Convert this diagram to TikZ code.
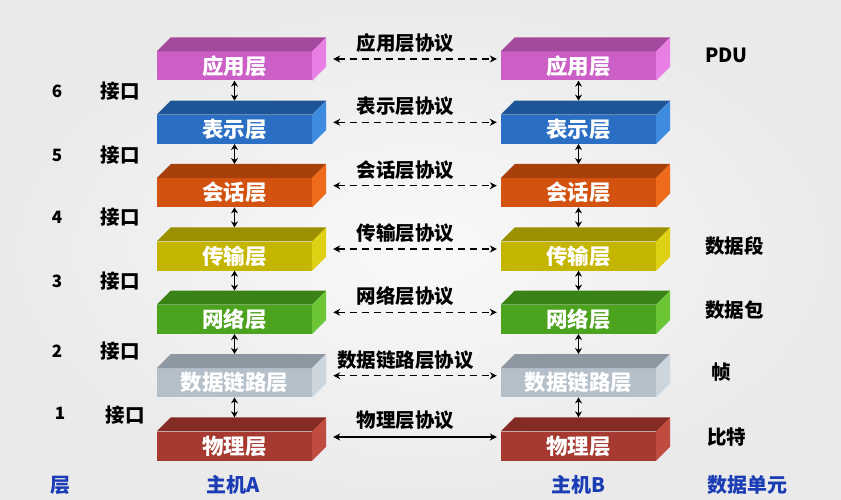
\documentclass[tikz,border=0pt]{standalone}
\usepackage{fontspec}
\setmainfont{Noto Sans CJK SC}
\usetikzlibrary{arrows.meta,calc}
\definecolor{bgin}{HTML}{F9F9F9}
\definecolor{bgout}{HTML}{EAEAEA}
\definecolor{appfront}{HTML}{CC5FC6}\definecolor{apptop}{HTML}{A44A9C}\definecolor{appside}{HTML}{E97FE4}
\definecolor{prefront}{HTML}{2B6FC4}\definecolor{pretop}{HTML}{1E5598}\definecolor{preside}{HTML}{3F8BE0}
\definecolor{sesfront}{HTML}{D4520F}\definecolor{sestop}{HTML}{A8400C}\definecolor{sesside}{HTML}{F06A1C}
\definecolor{trafront}{HTML}{C4B500}\definecolor{tratop}{HTML}{9C9000}\definecolor{traside}{HTML}{DED012}
\definecolor{netfront}{HTML}{4CA31E}\definecolor{nettop}{HTML}{3A8216}\definecolor{netside}{HTML}{6CC534}
\definecolor{dlfront}{HTML}{B4BFCA}\definecolor{dltop}{HTML}{8E98A3}\definecolor{dlside}{HTML}{CDD5DD}
\definecolor{phyfront}{HTML}{A63A30}\definecolor{phytop}{HTML}{842B24}\definecolor{physide}{HTML}{C04B3F}
\definecolor{deepblue}{HTML}{1A3CB4}
\newcommand\layerbox[5]{%
  \node[face,fill=#4front] (#1) at (#2,#3) {#5};
  \fill[#4top] (#1.north west) -- ++(14,-14) -- ($(#1.north east)+(14,-14)$) -- (#1.north east) -- cycle;
  \fill[#4side] (#1.north east) -- ++(14,-14) -- ($(#1.south east)+(14,-14)$) -- (#1.south east) -- cycle;
}
\begin{document}
\begin{tikzpicture}[x=1pt,y=-1pt,
  face/.style={minimum width=155pt,minimum height=29pt,inner sep=0pt,text=white,
    font=\fontsize{21.5}{21.5}\selectfont\bfseries},
  lbl/.style={inner sep=0pt,font=\fontsize{19.5}{19.5}\selectfont\bfseries},
  numlbl/.style={inner sep=0pt,font=\fontsize{17}{17}\selectfont\bfseries},
  bluelbl/.style={inner sep=0pt,text=deepblue,font=\fontsize{20}{20}\selectfont\bfseries},
  varrow/.style={line width=1.6pt,{Stealth[length=6pt,width=7pt]}-{Stealth[length=6pt,width=7pt]}},
  harrow/.style={line width=1.5pt,dash pattern=on 7pt off 5pt,{Stealth[length=7pt,width=7pt]}-{Stealth[length=7pt,width=7pt]}},
  sarrow/.style={line width=1.5pt,{Stealth[length=7pt,width=7pt]}-{Stealth[length=7pt,width=7pt]}}]
\useasboundingbox (0,0) rectangle (841,500);
\shade[inner color=bgin,outer color=bgout] (0,0) rectangle (841,500);
% boxes
\layerbox{a0}{234.5}{66}{app}{应用层}
\layerbox{a1}{234.5}{129.3}{pre}{表示层}
\layerbox{a2}{234.5}{192.7}{ses}{会话层}
\layerbox{a3}{234.5}{256}{tra}{传输层}
\layerbox{a4}{234.5}{319.3}{net}{网络层}
\layerbox{a5}{234.5}{382.7}{dl}{数据链路层}
\layerbox{a6}{234.5}{446}{phy}{物理层}
\layerbox{b0}{578.5}{66}{app}{应用层}
\layerbox{b1}{578.5}{129.3}{pre}{表示层}
\layerbox{b2}{578.5}{192.7}{ses}{会话层}
\layerbox{b3}{578.5}{256}{tra}{传输层}
\layerbox{b4}{578.5}{319.3}{net}{网络层}
\layerbox{b5}{578.5}{382.7}{dl}{数据链路层}
\layerbox{b6}{578.5}{446}{phy}{物理层}
% vertical arrows
\foreach \i/\j in {0/1,1/2,2/3,3/4,4/5,5/6}{
  \draw[varrow] (a\i.south) -- ($(a\j.north)+(0,-14)$);
  \draw[varrow] (b\i.south) -- ($(b\j.north)+(0,-14)$);
}
% protocol arrows and labels
\foreach \i/\t in {0/应用层协议,1/表示层协议,2/会话层协议,3/传输层协议,4/网络层协议,5/数据链路层协议}{
  \draw[harrow] ($(a\i.east)+(21,-7)$) -- ($(b\i.west)+(-4,-7)$);
  \node[lbl] (p\i) at ($(a\i.east)!0.5!(b\i.west)+(-1,-23)$) {\t};
}
\draw[sarrow] ($(a6.east)+(21,-9)$) -- ($(b6.west)+(-4,-9)$);
\node[lbl] (p6) at ($(a6.east)!0.5!(b6.west)+(-1,-26)$) {物理层协议};
% left labels
\node[numlbl] (n6) at (57,91) {6};
\node[numlbl] (n5) at (57,155) {5};
\node[numlbl] (n4) at (57,217) {4};
\node[numlbl] (n3) at (57,281) {3};
\node[numlbl] (n2) at (57,351) {2};
\node[numlbl] (n1) at (60,413) {1};
\node[lbl] (i6) at (120,91) {接口};
\node[lbl] (i5) at (120,155) {接口};
\node[lbl] (i4) at (120,217) {接口};
\node[lbl] (i3) at (120,281) {接口};
\node[lbl] (i2) at (120,351) {接口};
\node[lbl] (i1) at (125,415) {接口};
% right labels
\node[lbl,anchor=west] (u0) at (705,55) {PDU};
\node[lbl,anchor=west] (u3) at (705,246) {数据段};
\node[lbl,anchor=west] (u4) at (705,310) {数据包};
\node[lbl,anchor=west] (u5) at (711,372) {帧};
\node[lbl,anchor=west] (u6) at (707,437) {比特};
% bottom labels
\node[bluelbl] (hl) at (60,485) {层};
\node[bluelbl] (ha) at (233,485) {主机A};
\node[bluelbl] (hb) at (578,485) {主机B};
\node[bluelbl,anchor=west] (hu) at (707,485) {数据单元};
\end{tikzpicture}
\end{document}
